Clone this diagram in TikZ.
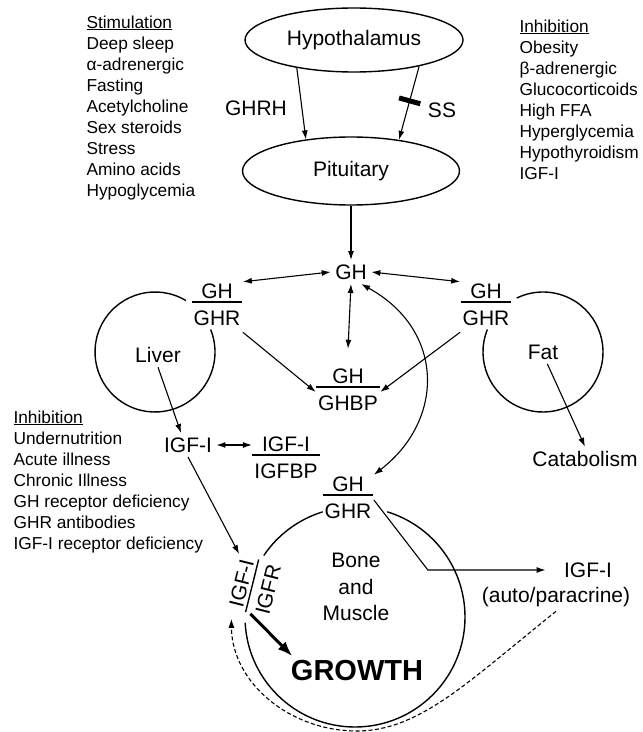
\documentclass[tikz,border=0pt]{standalone}
\usepackage{fontspec}
\setmainfont{Liberation Sans}
\usetikzlibrary{shapes, arrows.meta, positioning}
\setlength{\arrayrulewidth}{1.4bp}
\newcommand{\pair}[2]{{\renewcommand{\arraystretch}{0}\begin{tabular}{@{\kern2bp}c@{\kern2bp}}\rule[-3bp]{0pt}{19bp}#1\\\hline\rule[-6bp]{0pt}{29bp}#2\end{tabular}}}
\tikzset{lbl/.style={font=\fontsize{21bp}{26.5bp}\selectfont, inner sep=4bp}}
\tikzset{ratio/.style={lbl, inner sep=0pt}}
\tikzset{gland/.style={lbl, draw, ellipse, line width=1.4bp}}
\tikzset{factors/.style={anchor=north west, align=left, inner sep=0pt, font=\fontsize{17.3bp}{21bp}\selectfont}}
\tikzset{tissue/.style={line width=1.4bp}}

\begin{document}
\begin{tikzpicture}[x=1bp, y=-1bp, line width=1.1bp, >={Latex[length=9bp, width=6bp]}]
	\useasboundingbox (0,0) rectangle (643,732);
	
	%%% NODES %%%
	
	% HYPOTHALAMUS AND PITUITARY
	\node[gland, minimum width=218bp, minimum height=64bp] at (354,40) (hypo) {Hypothalamus};
	\node[gland, minimum width=217bp, minimum height=68bp] at (351,171) (pit) {Pituitary};
	\node[lbl] at (256,108) (ghrh) {GHRH};
	\node[lbl] at (442,110) (ss) {SS};
	
	% FACTOR LISTS
	\node[factors] at (86,15) (stim) {\underline{Stimulation}\\Deep sleep\\α-adrenergic\\Fasting\\Acetylcholine\\Sex steroids\\Stress\\Amino acids\\Hypoglycemia};
	\node[factors] at (519,19) (inhib) {\underline{Inhibition}\\Obesity\\β-adrenergic\\Glucocorticoids\\High FFA\\Hyperglycemia\\Hypothyroidism\\IGF-I};
	\node[factors] at (13,410) (inhibgrowth) {\underline{Inhibition}\\Undernutrition\\Acute illness\\Chronic Illness\\GH receptor deficiency\\GHR antibodies\\IGF-I receptor deficiency};
	
	% GH
	\node[lbl] at (351,272) (gh) {GH};
	\node[ratio] at (217,307) (liverfr) {\pair{GH}{GHR}};
	\node[ratio] at (486,307) (fatfr) {\pair{GH}{GHR}};
	\node[ratio] at (348,392) (ghbp) {\pair{GH}{GHBP}};
	
	% LIVER
	\draw[tissue] (155,352) ++(-59:60) arc[start angle=-59, end angle=-382, radius=60];
	\node[lbl] at (158,355) (liver) {Liver};
	\node[lbl] at (188,445) (igf) {IGF-I};
	\node[ratio] at (286,460) (igfbp) {\pair{IGF-I}{IGFBP}};
	
	% FAT
	\draw[tissue] (543,352) ++(-158:60) arc[start angle=-158, end angle=-476, radius=60];
	\node[lbl] at (543,352) (fat) {Fat};
	\node[lbl] at (585,459) (catab) {Catabolism};
	
	% BONE AND MUSCLE
	\draw[tissue] (355,617) ++(-107:110) arc[start angle=-107, end angle=-146, radius=110];
	\draw[tissue] (355,617) ++(-183:110) arc[start angle=-183, end angle=-433, radius=110];
	\node[ratio] at (348,500) (bonefr) {\pair{GH}{GHR}};
	\node[ratio, rotate=76] at (257,587) (igfr) {\pair{IGF-I}{IGFR}};
	\node[lbl, align=center] at (356,587) (bone) {Bone\\and\\Muscle};
	\node[lbl, font=\fontsize{29bp}{34bp}\selectfont\bfseries] at (357,671) (growth) {GROWTH};
	\node[lbl] at (588,570) (igfauto) {IGF-I};
	\node[lbl] at (556,597) (auto) {(auto/paracrine)};
	
	
	%%% EXTRA ARROW NODES %%%
	\node[coordinate, below right=70bp and 54bp of bonefr.east] (e0) {};
	\node[coordinate, below=60bp of growth.center] (e1) {};
	\node[coordinate, below left=5bp and 19bp of igfr.west] (e2) {};
	
	
	%%% ARROWS %%%
	
	% HYPOTHALAMUS AND PITUITARY
	\draw[->] (hypo.206) -- (pit.145);
	\draw[->] (hypo.338) -- node[pos=0.47, sloped, fill, inner sep=0pt, minimum width=5bp, minimum height=22bp] (ssbar) {} (pit.33);
	\draw[->] (pit) -- (gh);
	
	% GH
	\draw[<->] (liverfr.north east) -- (gh.west);
	\draw[<->] (gh.east) -- (fatfr.north west);
	\draw[<->] (gh.south) -- ([yshift=18bp]ghbp.north);
	\draw[->] (liverfr.south east) -- (ghbp.west);
	\draw[->] (fatfr.south west) -- (ghbp.east);
	\draw[<->] (gh.-50) .. controls (445,330) and (445,420) .. (bonefr.north east);
	
	% LIVER AND FAT
	\draw[->] (liver.south) -- (igf.120);
	\draw[<->] (igf.east) -- (igf.east -| igfbp.west);
	\draw[->] (igf.south) -- (igfr.north east);
	\draw[->] (fat.-70) -- (catab.north);
	
	% BONE AND MUSCLE
	\draw[-{Latex[length=15bp, width=11bp]}, line width=3bp] (igfr.west) -- ([xshift=6bp]growth.north west);
	\draw[->, shorten >=14bp] (bonefr.east) -- (e0) -- (e0 -| igfauto.west);
	\draw[->, dash pattern=on 4bp off 2.5bp] (auto.south) .. controls (470,680) and (420,731) .. (e1) .. controls (290,731) and (232,683) .. (e2);
	
\end{tikzpicture}
\end{document}
